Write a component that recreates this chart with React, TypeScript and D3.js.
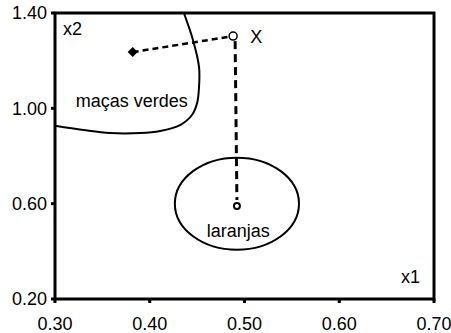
import React from "react";
import * as d3 from "d3";

// axis ticks
const xTicks = [0.3, 0.4, 0.5, 0.6, 0.7];
const yTicks = [0.2, 0.6, 1.0, 1.4];

// boundary of the "maçãs verdes" region
const appleX = [0.436, 0.4456, 0.452, 0.452, 0.45, 0.4446, 0.432, 0.411, 0.39, 0.358, 0.33, 0.3];
const appleY = [1.4, 1.287, 1.174, 1.089, 1.022, 0.972, 0.93, 0.905, 0.896, 0.896, 0.909, 0.927];

// points
const applePoint = [0.382, 1.236];
const newPoint = [0.488, 1.303];
const orangePoint = [0.492, 0.59];

// oranges ellipse: center and radii
const orangeCenter = [0.492, 0.6];
const orangeRadii = [0.0655, 0.193];

const W = 451;
const H = 333;
const margin = { top: 13, right: 17, bottom: 34, left: 55 };
const font = "Arial, 'Liberation Sans', sans-serif";

export default function App() {
  const x = d3.scaleLinear().domain([0.3, 0.7]).range([margin.left, W - margin.right]);
  const y = d3.scaleLinear().domain([0.2, 1.4]).range([H - margin.bottom, margin.top]);

  const apple = d3
    .line<number>()
    .x((d, i) => x(appleX[i]))
    .y((d, i) => y(appleY[i]))
    .curve(d3.curveCatmullRom)(appleX);

  const diamond = d3.symbol(d3.symbolSquare, 50)();

  const ex = x(orangeCenter[0]);
  const ey = y(orangeCenter[1]);
  const rx = x(orangeCenter[0] + orangeRadii[0]) - ex;
  const ry = ey - y(orangeCenter[1] + orangeRadii[1]);

  return (
    <svg
      width={W}
      height={H}
      style={{ position: "absolute", left: 0, top: 0, background: "#fff" }}
      fontFamily={font}
    >
      <defs>
        <clipPath id="plot">
          <rect
            x={margin.left}
            y={margin.top}
            width={W - margin.left - margin.right}
            height={H - margin.top - margin.bottom}
          />
        </clipPath>
      </defs>

      <g clipPath="url(#plot)">
        <path d={apple ?? ""} fill="none" stroke="#000" strokeWidth={2} />
        <ellipse cx={ex} cy={ey} rx={rx} ry={ry} fill="none" stroke="#000" strokeWidth={2} />
      </g>

      {/* dashed connectors */}
      <line
        x1={x(applePoint[0])}
        y1={y(applePoint[1])}
        x2={x(newPoint[0])}
        y2={y(newPoint[1])}
        stroke="#000"
        strokeWidth={2.5}
        strokeDasharray="6,4"
      />
      <line
        x1={x(newPoint[0]) + 2}
        y1={y(newPoint[1]) + 5}
        x2={x(orangePoint[0])}
        y2={y(orangePoint[1]) - 6}
        stroke="#000"
        strokeWidth={3}
        strokeDasharray="8,5"
      />

      <path
        d={diamond}
        transform={`translate(${x(applePoint[0])},${y(applePoint[1])}) rotate(45)`}
        fill="#000"
      />
      <circle cx={x(newPoint[0])} cy={y(newPoint[1])} r={4} fill="#fff" stroke="#000" strokeWidth={1.5} />
      <circle cx={x(orangePoint[0])} cy={y(orangePoint[1])} r={3} fill="#fff" stroke="#000" strokeWidth={2} />

      <text x={x(newPoint[0]) + 17} y={y(newPoint[1]) + 7} fontSize={18}>X</text>
      <text x={x(0.381)} y={107} fontSize={18} textAnchor="middle">maças verdes</text>
      <text x={x(0.4935)} y={237} fontSize={18} textAnchor="middle">laranjas</text>
      <text x={margin.left + 8} y={margin.top + 22} fontSize={18}>x2</text>
      <text x={W - margin.right - 14} y={H - margin.bottom - 16} fontSize={18} textAnchor="end">x1</text>

      {/* frame */}
      <rect
        x={margin.left}
        y={margin.top}
        width={W - margin.left - margin.right}
        height={H - margin.top - margin.bottom}
        fill="none"
        stroke="#000"
        strokeWidth={3}
      />

      {yTicks.map((t) => (
        <g key={"y" + t}>
          <line x1={margin.left - 4} x2={margin.left} y1={y(t)} y2={y(t)} stroke="#000" strokeWidth={3} />
          <text x={margin.left - 8} y={y(t)} dy="0.36em" fontSize={18} textAnchor="end">
            {t.toFixed(2)}
          </text>
        </g>
      ))}
      {xTicks.map((t) => (
        <g key={"x" + t}>
          <line x1={x(t)} x2={x(t)} y1={H - margin.bottom} y2={H - margin.bottom + 4} stroke="#000" strokeWidth={3} />
          <text x={x(t)} y={H - margin.bottom + 31} fontSize={18} textAnchor="middle">
            {t.toFixed(2)}
          </text>
        </g>
      ))}
    </svg>
  );
}
